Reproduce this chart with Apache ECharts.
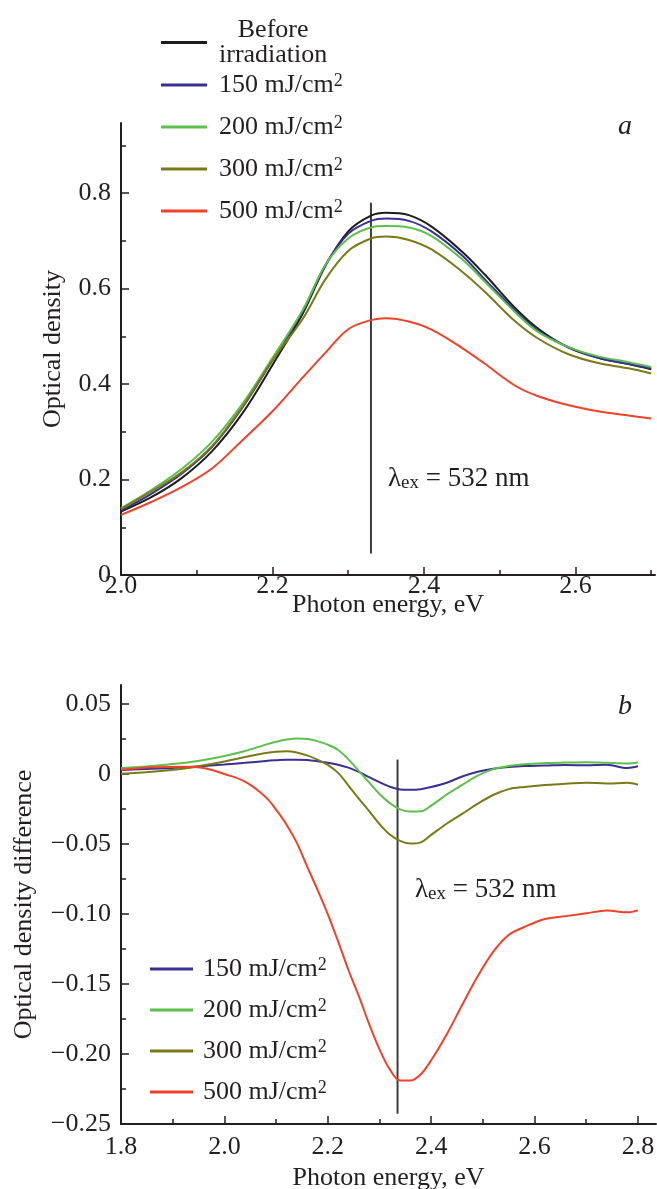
<!DOCTYPE html>
<html><head><meta charset="utf-8">
<script src="https://cdn.jsdelivr.net/npm/echarts@6/dist/echarts.min.js"></script>
<style>html,body{margin:0;padding:0;background:#fff}#c{width:657px;height:1189px}</style>
</head><body><div id="c"></div>
<script>
// ---------- data ----------
const namesA = ['Before irradiation', '150 mJ/cm2', '200 mJ/cm2', '300 mJ/cm2', '500 mJ/cm2'];
const namesB = ['150 mJ/cm2', '200 mJ/cm2', '300 mJ/cm2', '500 mJ/cm2'];
const lineColors = ['#1d1d1b', '#3a2f93', '#5dbf4c', '#7a7a18', '#ef4229'];

// panel a: photon energy (eV) and optical density
const xA = [2.00, 2.04, 2.08, 2.12, 2.16, 2.20, 2.24, 2.27, 2.30, 2.33, 2.35, 2.38, 2.41, 2.45, 2.48, 2.52, 2.55, 2.59, 2.63, 2.67, 2.70];
const odBefore = [0.133, 0.163, 0.203, 0.259, 0.338, 0.440, 0.548, 0.648, 0.720, 0.753, 0.759, 0.754, 0.730, 0.678, 0.630, 0.560, 0.517, 0.477, 0.455, 0.442, 0.431];
const od150 = [0.135, 0.170, 0.212, 0.268, 0.350, 0.450, 0.553, 0.650, 0.715, 0.742, 0.747, 0.742, 0.720, 0.670, 0.620, 0.555, 0.512, 0.478, 0.455, 0.442, 0.433];
const od200 = [0.140, 0.178, 0.222, 0.279, 0.358, 0.455, 0.555, 0.650, 0.705, 0.728, 0.731, 0.728, 0.710, 0.662, 0.615, 0.551, 0.510, 0.478, 0.458, 0.446, 0.436];
const od300 = [0.138, 0.175, 0.215, 0.270, 0.352, 0.450, 0.537, 0.620, 0.679, 0.705, 0.709, 0.702, 0.682, 0.636, 0.594, 0.532, 0.496, 0.463, 0.444, 0.433, 0.422];
const od500 = [0.126, 0.153, 0.184, 0.223, 0.282, 0.343, 0.414, 0.466, 0.515, 0.534, 0.538, 0.531, 0.514, 0.476, 0.443, 0.397, 0.375, 0.356, 0.343, 0.334, 0.328];

// panel b: optical density difference
const xB = [1.80, 1.86, 1.92, 1.96, 2.00, 2.04, 2.08, 2.10, 2.12, 2.14, 2.16, 2.18, 2.20, 2.22, 2.24, 2.26, 2.28, 2.30, 2.32, 2.34, 2.36, 2.38, 2.40, 2.43, 2.46, 2.49, 2.52, 2.55, 2.58, 2.62, 2.66, 2.70, 2.74, 2.78, 2.80];
const dd150 = [0.0029, 0.0037, 0.0048, 0.0058, 0.0068, 0.0080, 0.0093, 0.0098, 0.0102, 0.0102, 0.0100, 0.0092, 0.0081, 0.0066, 0.0046, 0.0015, -0.0022, -0.0058, -0.0090, -0.0110, -0.0113, -0.0108, -0.0093, -0.0062, -0.0018, 0.0016, 0.0038, 0.0051, 0.0058, 0.0061, 0.0065, 0.0062, 0.0066, 0.0043, 0.0055];
const dd200 = [0.0043, 0.0058, 0.0078, 0.0100, 0.0129, 0.0165, 0.0210, 0.0230, 0.0246, 0.0254, 0.0250, 0.0235, 0.0210, 0.0172, 0.0105, 0.0023, -0.0060, -0.0143, -0.0208, -0.0252, -0.0268, -0.0266, -0.0226, -0.0146, -0.0078, -0.0012, 0.0035, 0.0057, 0.0070, 0.0078, 0.0082, 0.0085, 0.0080, 0.0076, 0.0083];
const dd300 = [0.0002, 0.0016, 0.0038, 0.0062, 0.0090, 0.0122, 0.0150, 0.0160, 0.0162, 0.0154, 0.0133, 0.0103, 0.0065, 0.0008, -0.0082, -0.0175, -0.0265, -0.0357, -0.0432, -0.0478, -0.0497, -0.0488, -0.0435, -0.0355, -0.0285, -0.0212, -0.0150, -0.0108, -0.0092, -0.0078, -0.0070, -0.0062, -0.0067, -0.0063, -0.0076];
const dd500 = [0.0030, 0.0048, 0.0052, 0.0043, 0.0000, -0.0055, -0.0165, -0.0255, -0.0360, -0.0490, -0.0660, -0.0825, -0.1000, -0.1195, -0.1400, -0.1585, -0.1785, -0.1965, -0.2110, -0.2190, -0.2190, -0.2145, -0.2045, -0.1860, -0.1650, -0.1445, -0.1270, -0.1150, -0.1093, -0.1035, -0.1015, -0.0995, -0.0975, -0.0988, -0.0974];

// excitation line (532 nm)
const exLineA = [[2.33, 0.045], [2.33, 0.78]];
const exLineB = [[2.335, 0.0104], [2.335, -0.2426]];

// ticks
const xMajorA = [2.0, 2.2, 2.4, 2.6];
const xMinorA = [2.1, 2.3, 2.5, 2.7];
const yMajorA = [0, 0.2, 0.4, 0.6, 0.8];
const yMinorA = [0.1, 0.3, 0.5, 0.7, 0.9];
const xMajorB = [1.8, 2.0, 2.2, 2.4, 2.6, 2.8];
const xMinorB = [1.9, 2.1, 2.3, 2.5, 2.7];
const yMajorB = [-0.25, -0.20, -0.15, -0.10, -0.05, 0, 0.05];
const yMinorB = [-0.225, -0.175, -0.125, -0.075, -0.025, 0.025];
const yLabelsB = ['\u22120.25', '\u22120.20', '\u22120.15', '\u22120.10', '\u22120.05', '0', '0.05'];

// ---------- styling ----------
const FONT = 'Liberation Serif';
const INK = '#231f20';
const zip = (xs, ys) => xs.map((x, i) => [x, ys[i]]);

function mainAxis(gridIndex, min, max, major, fmt, extra, labelMargin) {
  return Object.assign({
    type: 'value', gridIndex, min, max,
    nameMoveOverlap: false,
    axisLine: { show: true, onZero: false, lineStyle: { color: INK, width: 2 } },
    axisTick: { show: true, inside: true, length: 8, customValues: major, lineStyle: { color: INK, width: 1.5 } },
    axisLabel: { show: true, customValues: major, formatter: fmt, fontFamily: FONT, fontSize: 26, color: INK, margin: labelMargin, hideOverlap: false },
    splitLine: { show: false },
    nameTextStyle: { fontFamily: FONT, fontSize: 26, color: INK }
  }, extra || {});
}
function minorAxis(gridIndex, min, max, minor, position) {
  return {
    type: 'value', gridIndex, min, max, position,
    axisLine: { show: false, onZero: false },
    axisTick: { show: true, inside: true, length: 5, customValues: minor, lineStyle: { color: INK, width: 1.5 } },
    axisLabel: { show: false },
    splitLine: { show: false }
  };
}

const fmtA = v => (Math.abs(v) < 1e-9 ? '0' : v.toFixed(1));
const fmtXA = v => v.toFixed(1);
const fmtYB = v => { const i = yMajorB.findIndex(t => Math.abs(t - v) < 1e-9); return i >= 0 ? yLabelsB[i] : ''; };

const richText = {
  n: { fontFamily: FONT, fontSize: 26, color: INK, lineHeight: 26 },
  c: { fontFamily: FONT, fontSize: 26, color: INK, lineHeight: 25, align: 'center' },
  sup: { fontFamily: FONT, fontSize: 18, color: INK, lineHeight: 12, verticalAlign: 'top' }
};
const legendFmt = name => name === 'Before irradiation'
  ? '{c|Before}\n{c|irradiation}'
  : '{n|' + name.slice(0, -1) + '}{sup|2}';

function lineSeries(name, data, idx, color) {
  return {
    type: 'line', name, data, xAxisIndex: idx, yAxisIndex: idx,
    showSymbol: false, smooth: 0.35, lineStyle: { color, width: 2 }, itemStyle: { color },
    z: 3, silent: true
  };
}

const series = [];
[odBefore, od150, od200, od300, od500].forEach((ys, i) => series.push(lineSeries(namesA[i], zip(xA, ys), 0, lineColors[i])));
[dd150, dd200, dd300, dd500].forEach((ys, i) => series.push(lineSeries(namesB[i], zip(xB, ys), 2, lineColors[i + 1])));
series.push({ type: 'line', data: exLineA, xAxisIndex: 0, yAxisIndex: 0, showSymbol: false, lineStyle: { color: '#3c3c3c', width: 2 }, z: 2, silent: true });
series.push({ type: 'line', data: exLineB, xAxisIndex: 2, yAxisIndex: 2, showSymbol: false, lineStyle: { color: '#3c3c3c', width: 2 }, z: 2, silent: true });

const legendBase = {
  orient: 'vertical', icon: 'rect', itemHeight: 3, selectedMode: false,
  formatter: legendFmt,
  textStyle: { fontFamily: FONT, fontSize: 26, color: INK, rich: richText }
};

const exRich = {
  n: { fontFamily: FONT, fontSize: 27, fill: INK, color: INK },
  sub: { fontFamily: FONT, fontSize: 19, fill: INK, color: INK, verticalAlign: 'bottom', padding: [9, 0, 0, 0] }
};

const option = {
  animation: false,
  backgroundColor: '#fff',
  grid: [
    { left: 121, right: 2, top: 123, height: 452, outerBoundsMode: 'none', containLabel: false },
    { left: 121, right: 1, top: 685, height: 439, outerBoundsMode: 'none', containLabel: false }
  ],
  xAxis: [
    mainAxis(0, 2.0, 2.705, xMajorA, fmtXA, { position: 'bottom', name: 'Photon energy, eV', nameLocation: 'middle', nameGap: 17 }, -2),
    minorAxis(0, 2.0, 2.705, xMinorA, 'bottom'),
    mainAxis(1, 1.8, 2.835, xMajorB, fmtXA, { position: 'bottom', name: 'Photon energy, eV', nameLocation: 'middle', nameGap: 41 }, 10),
    minorAxis(1, 1.8, 2.835, xMinorB, 'bottom')
  ],
  yAxis: [
    mainAxis(0, 0, 0.947, yMajorA, fmtA, { position: 'left', name: 'Optical density', nameLocation: 'middle', nameGap: 55 }, 10),
    minorAxis(0, 0, 0.947, yMinorA, 'left'),
    mainAxis(1, -0.25, 0.0636, yMajorB, fmtYB, { position: 'left', name: 'Optical density difference', nameLocation: 'middle', nameGap: 84 }, 10),
    minorAxis(1, -0.25, 0.0636, yMinorB, 'left')
  ],
  legend: [
    Object.assign({}, legendBase, { data: ['Before irradiation'], left: 156, top: 12, itemWidth: 46, itemGap: 16,
      textStyle: Object.assign({}, legendBase.textStyle, { padding: [0, 0, 0, 7] }) }),
    Object.assign({}, legendBase, { data: namesA.slice(1), left: 156, top: 67, itemWidth: 46, itemGap: 16,
      textStyle: Object.assign({}, legendBase.textStyle, { padding: [0, 0, 0, 7] }) }),
    Object.assign({}, legendBase, { data: namesB, left: 145, top: 951, itemWidth: 43, itemGap: 15,
      textStyle: Object.assign({}, legendBase.textStyle, { padding: [0, 0, 0, 5] }) })
  ],
  graphic: [
    { type: 'text', left: 618, top: 113, style: { text: 'a', font: 'italic 28px "Liberation Serif"', fill: INK } },
    { type: 'text', left: 618, top: 693, style: { text: 'b', font: 'italic 28px "Liberation Serif"', fill: INK } },
    { type: 'text', left: 388, top: 465, style: { text: '{n|λ}{sub|ex}{n| = 532 nm}', rich: exRich } },
    { type: 'text', left: 415, top: 876, style: { text: '{n|λ}{sub|ex}{n| = 532 nm}', rich: exRich } }
  ],
  series
};

const chart = echarts.init(document.getElementById('c'), null, { renderer: 'canvas' });
chart.setOption(option);
</script>
</body></html>
